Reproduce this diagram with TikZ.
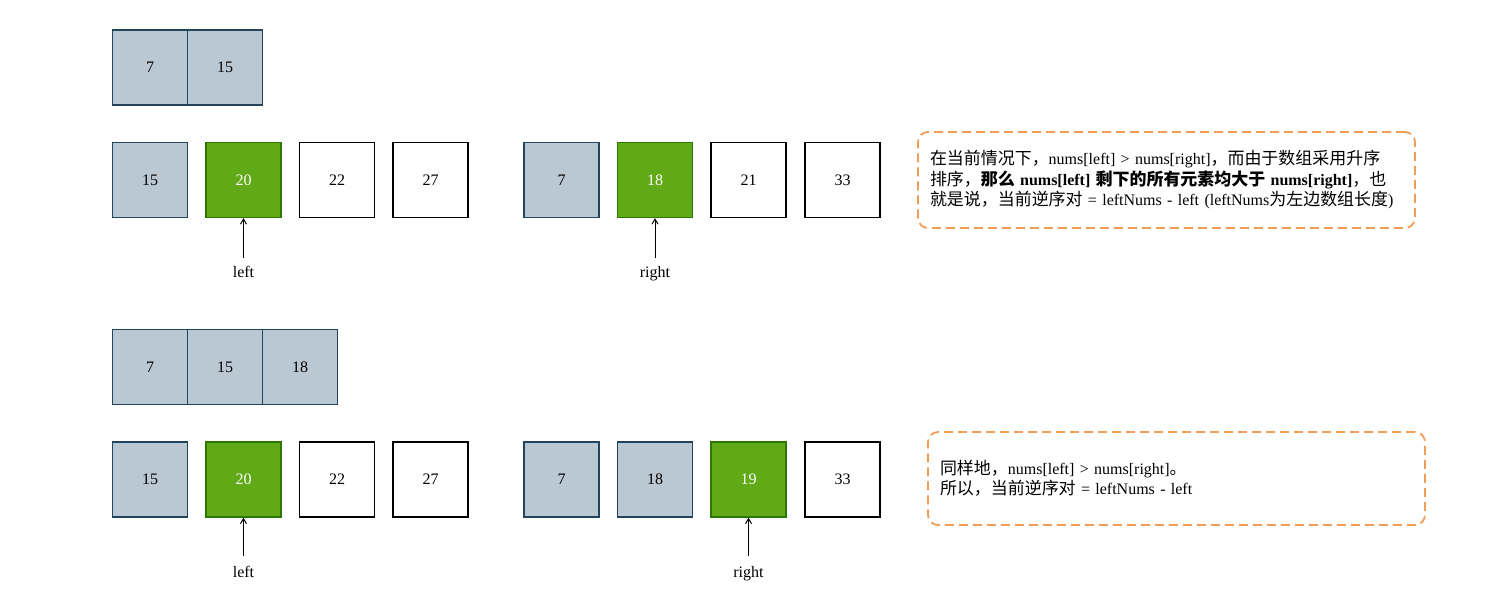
\documentclass[tikz,border=0pt]{standalone}
\usepackage{fontspec}
\setmainfont{Liberation Serif}
\newfontfamily\cjk[Scale=1.06]{Noto Sans CJK SC}
\newcommand{\C}[1]{{\cjk #1}}
\usetikzlibrary{arrows.meta}
\definecolor{grayfill}{HTML}{BAC8D3}
\definecolor{graydraw}{HTML}{23445D}
\definecolor{greenfill}{HTML}{60A917}
\definecolor{greendraw}{HTML}{2D7600}
\definecolor{orangedraw}{HTML}{F29D56}
\tikzset{
  cell/.style={draw, line width=1.4pt, minimum width=75pt, minimum height=75pt, inner sep=0pt, font=\fontsize{16}{20}\selectfont},
  gcell/.style={cell, fill=grayfill, draw=graydraw},
  hcell/.style={cell, fill=greenfill, draw=greendraw, text=white},
  wcell/.style={cell, fill=white, draw=black},
  ptr/.style={-{Straight Barb[length=5pt,width=6pt]}, line width=1pt},
  lbl/.style={font=\fontsize{16}{20}\selectfont, inner sep=0pt, anchor=base},
  note/.style={draw=orangedraw, line width=1.8pt, dash pattern=on 9pt off 5pt, rounded corners=10pt,
    minimum width=497pt, text width=473pt, inner xsep=12pt, align=left, font=\fontsize{16}{20.5}\selectfont}
}
\begin{document}
\begin{tikzpicture}[x=1pt,y=-1pt]
\useasboundingbox (0,0) rectangle (1500,597);
% --- top section ---
\node[gcell] (a1) at (150,67.5) {7};
\node[gcell] (a2) at (225,67.5) {15};

\node[gcell] (l1) at (150,180) {15};
\node[hcell] (l2) at (243.5,180) {20};
\node[wcell] (l3) at (337,180) {22};
\node[wcell] (l4) at (430.5,180) {27};
\node[gcell] (r1) at (561.5,180) {7};
\node[hcell] (r2) at (655,180) {18};
\node[wcell] (r3) at (748.5,180) {21};
\node[wcell] (r4) at (842.5,180) {33};

\coordinate (lt1) at (243.5,258);
\coordinate (rt1) at (655,258);
\draw[ptr] (lt1) -- (l2.south);
\draw[ptr] (rt1) -- (r2.south);
\node[lbl] (ll1) at (243.5,277.5) {left};
\node[lbl] (rl1) at (655,277.5) {right};

\node[note, minimum height=96pt] (n1) at (1166.5,180) {\C{在当前情况下，}nums[left] > nums[right]\C{，而由于数组采用升序}\\
\C{排序，}\textbf{\C{那么} nums[left] \C{剩下的所有元素均大于} nums[right]}\C{，也}\\
\C{就是说，当前逆序对} = leftNums - left (leftNums\C{为左边数组长度})};

% --- bottom section ---
\node[gcell] (b1) at (150,367) {7};
\node[gcell] (b2) at (225,367) {15};
\node[gcell] (b3) at (300,367) {18};

\node[gcell] (m1) at (150,479.5) {15};
\node[hcell] (m2) at (243.5,479.5) {20};
\node[wcell] (m3) at (337,479.5) {22};
\node[wcell] (m4) at (430.5,479.5) {27};
\node[gcell] (s1) at (561.5,479.5) {7};
\node[gcell] (s2) at (655,479.5) {18};
\node[hcell] (s3) at (748.5,479.5) {19};
\node[wcell] (s4) at (842.5,479.5) {33};

\coordinate (lt2) at (243.5,556);
\coordinate (rt2) at (748.5,556);
\draw[ptr] (lt2) -- (m2.south);
\draw[ptr] (rt2) -- (s3.south);
\node[lbl] (ll2) at (243.5,577.5) {left};
\node[lbl] (rl2) at (748.5,577.5) {right};

\node[note, minimum height=93pt] (n2) at (1176.5,478.5) {\C{同样地，}nums[left] > nums[right]\C{。}\\
\C{所以，当前逆序对} = leftNums - left};
\end{tikzpicture}
\end{document}
